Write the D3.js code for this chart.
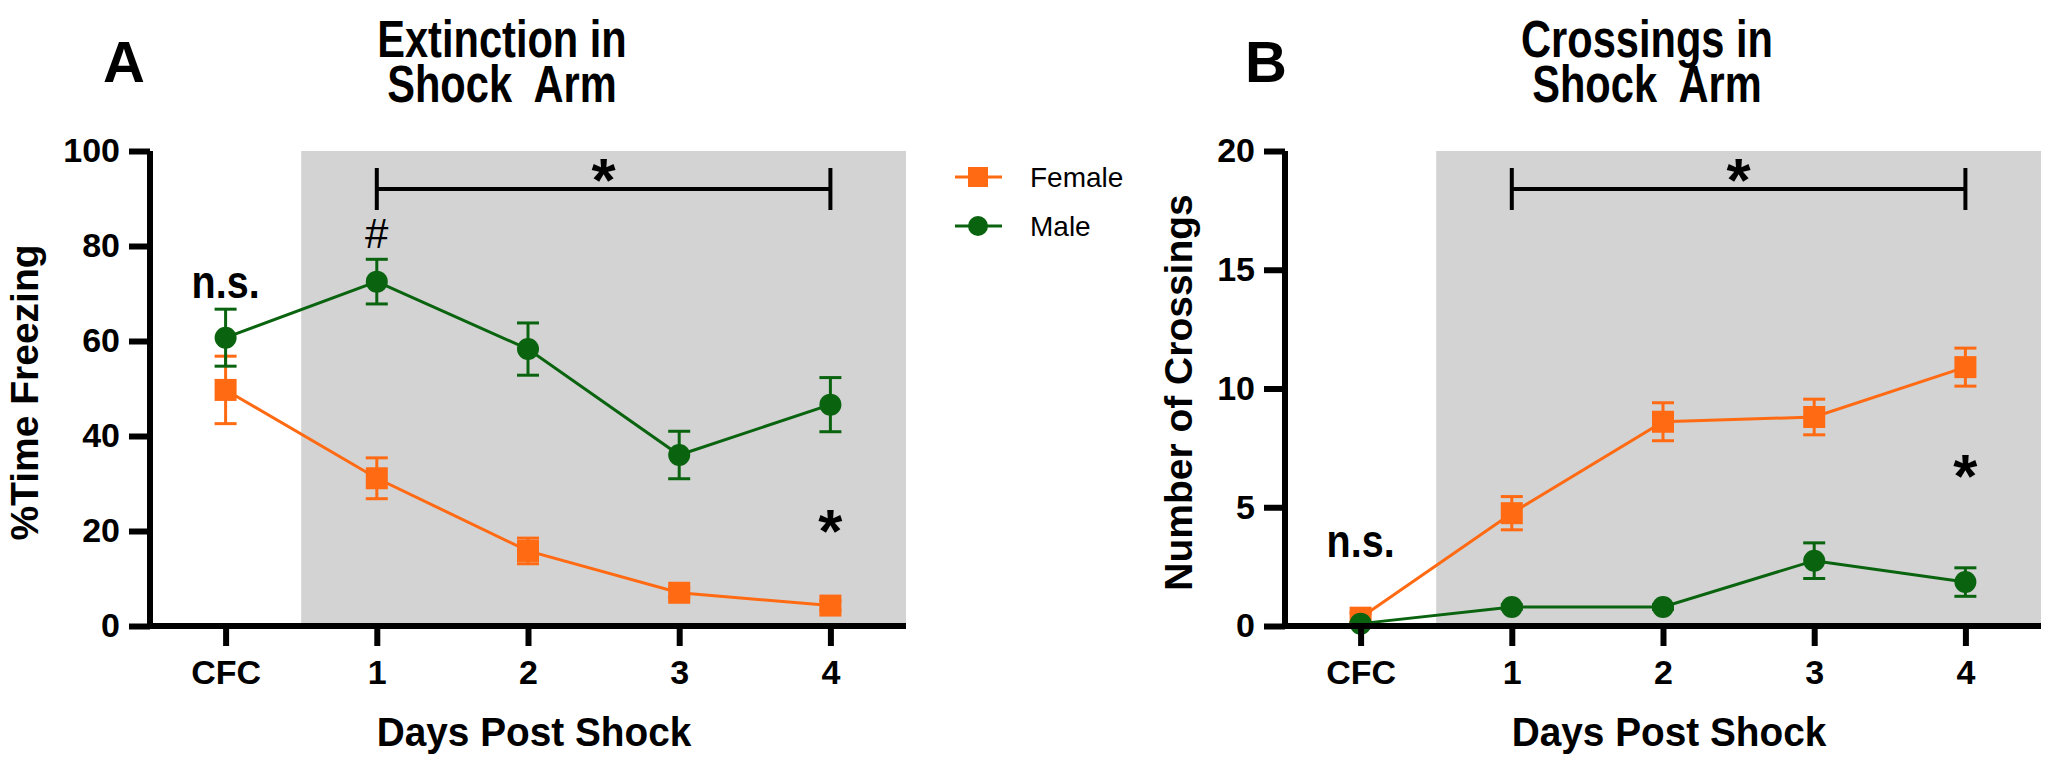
<!DOCTYPE html>
<html><head><meta charset="utf-8">
<script src="https://cdn.jsdelivr.net/npm/d3@7"></script>
<style>
html,body{margin:0;padding:0;background:#fff;}
svg{display:block;}
.bold{font-family:"Liberation Sans",Arial,sans-serif;font-weight:bold;}
.reg{font-family:"Liberation Sans",Arial,sans-serif;}
</style></head>
<body><svg id="chart" width="2058" height="763"></svg>
<script>
const categories = ["CFC", "1", "2", "3", "4"];
const seriesNames = ["Female", "Male"];
const seriesColors = ["#FF6A13", "#0A640F"];

const freezeFemale = [49.7, 31.1, 15.8, 7.0, 4.3];
const freezeFemaleErr = [7.1, 4.3, 2.7, 1.0, 1.0];
const freezeMale = [60.7, 72.5, 58.3, 36.0, 46.6];
const freezeMaleErr = [6.0, 4.7, 5.5, 5.0, 5.7];
const freezeTicks = [0, 20, 40, 60, 80, 100];

const crossFemale = [0.35, 4.75, 8.6, 8.8, 10.9];
const crossFemaleErr = [0.2, 0.7, 0.8, 0.75, 0.8];
const crossMale = [0.1, 0.8, 0.8, 2.75, 1.85];
const crossMaleErr = [0.05, 0.1, 0.1, 0.75, 0.6];
const crossTicks = [0, 5, 10, 15, 20];

const freezeNotes = [["CFC", 69, "n.s."], ["1", 79.5, "#"], ["4", 23, "*"]];
const freezeBracket = ["1", "4", 92];
const crossNotes = [["CFC", 2.9, "n.s."], ["4", 6.9, "*"]];
const crossBracket = ["1", "4", 18.4];

const svg = d3.select("#chart");

// condensed bold text helper (horizontal squeeze)
function narrowText(g, x, y, size, sx, lines, lh) {
  const t = g.append("text").attr("class", "bold").attr("font-size", size)
    .attr("text-anchor", "middle").attr("xml:space", "preserve")
    .attr("transform", `translate(${x},${y}) scale(${sx},1)`);
  lines.forEach((l, i) => t.append("tspan").attr("x", 0).attr("y", i * lh).text(l));
  return t;
}

function drawPanel(o) {
  const g = svg.append("g");
  const x = d3.scalePoint().domain(categories).range([o.x0, o.x1]).padding(0.5);
  const y = d3.scaleLinear().domain([0, o.ymax]).range([o.yb, o.yt]);

  // shaded region
  const gx0 = (x(categories[0]) + x(categories[1])) / 2;
  g.append("rect").attr("x", gx0).attr("y", y(o.ymax)).attr("width", o.x1 - gx0)
    .attr("height", y(0) - y(o.ymax)).attr("fill", "#D3D3D3");

  // series
  const sets = [[o.female, o.femaleErr], [o.male, o.maleErr]];
  sets.forEach((s, si) => {
    const col = seriesColors[si];
    const pts = categories.map((c, i) => ({c, v: s[0][i], e: s[1][i]}));
    const line = d3.line().x(d => x(d.c)).y(d => y(d.v));
    g.append("path").datum(pts).attr("d", line).attr("fill", "none")
      .attr("stroke", col).attr("stroke-width", 3);
    const eb = g.append("g").attr("stroke", col).attr("stroke-width", 3);
    pts.forEach(d => {
      eb.append("line").attr("x1", x(d.c)).attr("x2", x(d.c)).attr("y1", y(d.v + d.e)).attr("y2", y(d.v - d.e));
      [d.v + d.e, d.v - d.e].forEach(v => eb.append("line").attr("x1", x(d.c) - 11).attr("x2", x(d.c) + 11).attr("y1", y(v)).attr("y2", y(v)));
    });
    pts.forEach(d => {
      if (si === 0) {
        g.append("rect").attr("x", x(d.c) - 11).attr("y", y(d.v) - 11).attr("width", 22).attr("height", 22).attr("fill", col);
      } else {
        g.append("circle").attr("cx", x(d.c)).attr("cy", y(d.v)).attr("r", 11).attr("fill", col);
      }
    });
  });

  // axes
  const ya = g.append("g").attr("transform", `translate(${o.x0},0)`)
    .call(d3.axisLeft(y).tickValues(o.ticks).tickSize(21).tickSizeOuter(0).tickPadding(9));
  const xa = g.append("g").attr("transform", `translate(0,${o.yb})`)
    .call(d3.axisBottom(x).tickSize(20).tickSizeOuter(0).tickPadding(14));
  [ya, xa].forEach(a => {
    a.select(".domain").attr("stroke", "#000").attr("stroke-width", 6);
    a.selectAll(".tick line").attr("stroke", "#000").attr("stroke-width", 6);
    a.selectAll(".tick text").attr("class", "bold").attr("font-size", 34).attr("fill", "#000");
  });
  xa.select(".domain").attr("d", `M${o.x0 - 3},0H${o.x1}`);
  ya.select(".domain").attr("d", `M0,${o.yt}V${o.yb + 3}`);

  // axis titles
  g.append("text").attr("class", "bold").attr("font-size", 39)
    .attr("transform", `translate(${o.ytitleX},${(o.yt + o.yb) / 2 + 4}) rotate(-90)`)
    .attr("text-anchor", "middle").text(o.ytitle);
  narrowText(g, (o.x0 + o.x1) / 2 + 6, 746, 40, 0.97, ["Days Post Shock"], 0);

  // titles
  narrowText(g, o.titleX, 57, 52, 0.8, o.title, 45);
  g.append("text").attr("class", "bold").attr("font-size", 58)
    .attr("x", o.letterX).attr("y", 82).attr("text-anchor", "middle").text(o.letter);

  // annotations
  o.notes.forEach(n => {
    if (n[2] === "*") {
      g.append("text").attr("class", "bold").attr("font-size", 62)
        .attr("x", x(n[0])).attr("y", y(n[1]) + 0.57 * 62).attr("text-anchor", "middle").text("*");
    } else if (n[2] === "#") {
      g.append("text").attr("class", "reg").attr("font-size", 42)
        .attr("x", x(n[0])).attr("y", y(n[1])).attr("text-anchor", "middle").text("#");
    } else {
      narrowText(g, x(n[0]), y(n[1]), 47, 0.84, [n[2]], 0);
    }
  });
  const b = o.bracket;
  const bg = g.append("g").attr("stroke", "#000").attr("stroke-width", 4);
  bg.append("line").attr("x1", x(b[0])).attr("x2", x(b[1])).attr("y1", y(b[2])).attr("y2", y(b[2]));
  [b[0], b[1]].forEach(c => bg.append("line").attr("x1", x(c)).attr("x2", x(c))
    .attr("y1", y(b[2]) - 21).attr("y2", y(b[2]) + 21));
  g.append("text").attr("class", "bold").attr("font-size", 62)
    .attr("x", (x(b[0]) + x(b[1])) / 2).attr("y", y(b[2]) - 23 + 0.57 * 62)
    .attr("text-anchor", "middle").text("*");
  return g;
}

drawPanel({x0: 150, x1: 906, yt: 151, yb: 626, ymax: 100, ticks: freezeTicks,
  female: freezeFemale, femaleErr: freezeFemaleErr, male: freezeMale, maleErr: freezeMaleErr,
  ytitle: "%Time Freezing", ytitleX: 38, title: ["Extinction in", "Shock  Arm"], titleX: 502,
  letter: "A", letterX: 124, notes: freezeNotes, bracket: freezeBracket});

drawPanel({x0: 1285, x1: 2041, yt: 151, yb: 626, ymax: 20, ticks: crossTicks,
  female: crossFemale, femaleErr: crossFemaleErr, male: crossMale, maleErr: crossMaleErr,
  ytitle: "Number of Crossings", ytitleX: 1192, title: ["Crossings in", "Shock  Arm"], titleX: 1647,
  letter: "B", letterX: 1266, notes: crossNotes, bracket: crossBracket});

// legend
const lg = svg.append("g");
seriesNames.forEach((name, i) => {
  const cy = 177 + i * 49;
  const col = seriesColors[i];
  lg.append("line").attr("x1", 955).attr("x2", 1002).attr("y1", cy).attr("y2", cy).attr("stroke", col).attr("stroke-width", 3);
  if (i === 0) lg.append("rect").attr("x", 978 - 10).attr("y", cy - 10).attr("width", 20).attr("height", 20).attr("fill", col);
  else lg.append("circle").attr("cx", 978).attr("cy", cy).attr("r", 10).attr("fill", col);
  lg.append("text").attr("class", "reg").attr("font-size", 28).attr("x", 1030).attr("y", cy + 10).text(name);
});
</script></body></html>
